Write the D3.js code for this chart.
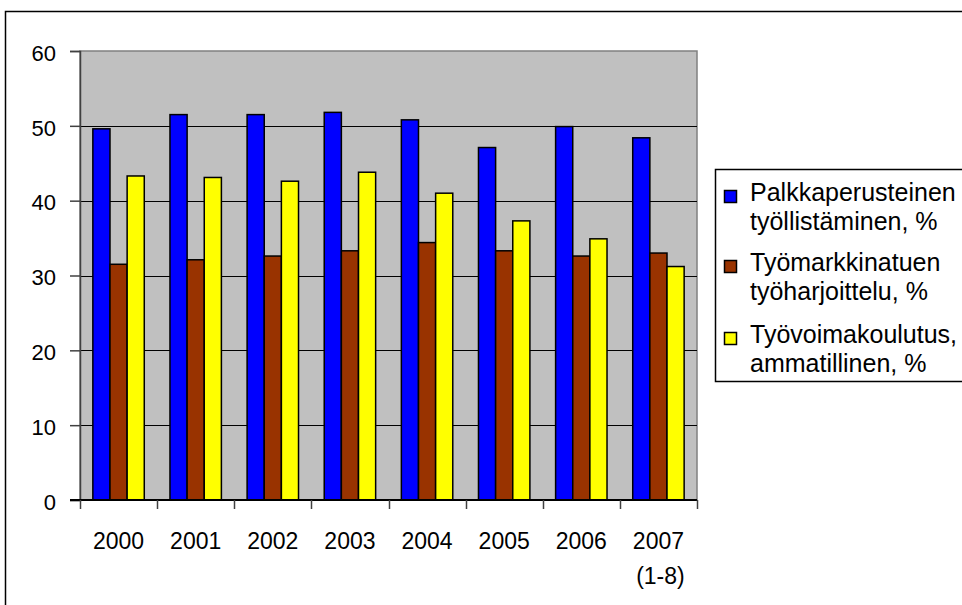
<!DOCTYPE html>
<html>
<head>
<meta charset="utf-8">
<script src="https://cdn.jsdelivr.net/npm/d3@7"></script>
<style>
  html, body { margin: 0; padding: 0; background: #fff; }
  svg { display: block; font-family: "Liberation Sans", Arial, sans-serif; }
</style>
</head>
<body>
<svg id="chart" width="962" height="605"></svg>
<script>
// Years and the extra line shown under the last one
const years = ["2000", "2001", "2002", "2003", "2004", "2005", "2006", "2007"];
const yearNotes = ["", "", "", "", "", "", "", "(1-8)"];

// Series names (two legend lines each) and values, %
const seriesKeys = ["palkka", "tmt", "koulutus"];
const seriesNames = [
  ["Palkkaperusteinen", "työllistäminen, %"],
  ["Työmarkkinatuen", "työharjoittelu, %"],
  ["Työvoimakoulutus,", "ammatillinen, %"]
];
const palkkaperusteinen = [49.6, 51.5, 51.5, 51.8, 50.8, 47.1, 49.9, 48.4];
const tyomarkkinatuen   = [31.5, 32.1, 32.6, 33.3, 34.4, 33.3, 32.6, 33.0];
const tyovoimakoulutus  = [43.3, 43.1, 42.6, 43.8, 41.0, 37.3, 34.9, 31.2];
const seriesValues = [palkkaperusteinen, tyomarkkinatuen, tyovoimakoulutus];
const seriesColors = ["#0000ff", "#993300", "#ffff00"];

const yTicks = [0, 10, 20, 30, 40, 50, 60];

const svg = d3.select("#chart");
const plot = { left: 80, right: 697, top: 51, bottom: 500 };

// Outer chart frame
svg.append("rect")
  .attr("x", 5.5).attr("y", 11.5)
  .attr("width", 990).attr("height", 640)
  .attr("fill", "#fff").attr("stroke", "#000").attr("stroke-width", 1.5);

const x = d3.scaleBand().domain(years).range([plot.left, plot.right]).padding(0);
const xs = d3.scaleBand().domain(seriesKeys).range([0, x.bandwidth()])
  .paddingInner(0).paddingOuter(0.75);
const y = d3.scaleLinear().domain([0, 60]).range([plot.bottom, plot.top]);

// Plot background
svg.append("rect")
  .attr("x", plot.left).attr("y", plot.top)
  .attr("width", plot.right - plot.left).attr("height", plot.bottom - plot.top)
  .attr("fill", "#c0c0c0").attr("stroke", "#808080").attr("stroke-width", 1.5);

// Horizontal gridlines
svg.append("g").selectAll("line")
  .data(yTicks.filter(d => d > 0 && d < 60))
  .join("line")
  .attr("x1", plot.left).attr("x2", plot.right)
  .attr("y1", d => Math.round(y(d)) + 0.5).attr("y2", d => Math.round(y(d)) + 0.5)
  .attr("stroke", "#000").attr("stroke-width", 1);

// Bars
const groups = svg.append("g").selectAll("g")
  .data(years)
  .join("g")
  .attr("transform", d => `translate(${x(d)},0)`);

groups.selectAll("rect")
  .data((d, i) => seriesKeys.map((k, s) => ({ key: k, value: seriesValues[s][i], color: seriesColors[s] })))
  .join("rect")
  .attr("x", d => xs(d.key))
  .attr("width", xs.bandwidth())
  .attr("y", d => y(d.value))
  .attr("height", d => y(0) - y(d.value))
  .attr("fill", d => d.color)
  .attr("stroke", "#000")
  .attr("stroke-width", 1.5);

// Y axis
const yAxis = svg.append("g")
  .attr("transform", `translate(${plot.left},0)`)
  .call(d3.axisLeft(y).tickValues(yTicks).tickSize(10).tickPadding(14).tickFormat(d3.format("d")));
yAxis.select(".domain").attr("stroke", "#404040").attr("stroke-width", 1.5);
yAxis.selectAll(".tick line").attr("stroke", "#404040").attr("stroke-width", 1.5);
yAxis.selectAll(".tick text")
  .attr("font-family", "'Liberation Sans', Arial, sans-serif")
  .attr("font-size", 22).attr("fill", "#000").attr("dy", "0.42em");

// X axis line and category boundary ticks
const xAxis = svg.append("g");
xAxis.append("line")
  .attr("x1", plot.left - 10).attr("x2", plot.right)
  .attr("y1", plot.bottom).attr("y2", plot.bottom)
  .attr("stroke", "#000").attr("stroke-width", 2);
const bounds = years.map(d => x(d)).concat([x(years[years.length - 1]) + x.bandwidth()]);
xAxis.selectAll("line.tick")
  .data(bounds)
  .join("line")
  .attr("class", "tick")
  .attr("x1", d => Math.round(d) + 0.5).attr("x2", d => Math.round(d) + 0.5)
  .attr("y1", plot.bottom).attr("y2", plot.bottom + 9)
  .attr("stroke", "#404040").attr("stroke-width", 1.5);

const labels = xAxis.selectAll("text")
  .data(years)
  .join("text")
  .attr("text-anchor", "middle")
  .attr("font-size", 23)
  .attr("fill", "#000");
labels.append("tspan")
  .attr("x", d => x(d) + x.bandwidth() / 2)
  .attr("y", 549)
  .text(d => d);
labels.filter(d => yearNotes[years.indexOf(d)] !== "").append("tspan")
  .attr("x", d => x(d) + x.bandwidth() / 2 + 2)
  .attr("y", 584)
  .text(d => yearNotes[years.indexOf(d)]);

// Legend
const legend = svg.append("g");
legend.append("rect")
  .attr("x", 715.5).attr("y", 169.5)
  .attr("width", 300).attr("height", 212)
  .attr("fill", "#fff").attr("stroke", "#000").attr("stroke-width", 1.5);

const entryTop = [201, 271, 343];
const item = legend.selectAll("g.item")
  .data(seriesNames)
  .join("g")
  .attr("class", "item");
item.append("rect")
  .attr("x", 724.5).attr("y", (d, i) => entryTop[i] - 10.5)
  .attr("width", 12).attr("height", 12)
  .attr("fill", (d, i) => seriesColors[i])
  .attr("stroke", "#000").attr("stroke-width", 1.5);
item.append("text")
  .attr("font-size", 25)
  .attr("fill", "#000")
  .selectAll("tspan")
  .data((d, i) => d.map((line, j) => ({ line, j, i })))
  .join("tspan")
  .attr("x", 750)
  .attr("y", d => entryTop[d.i] + d.j * 28.5)
  .text(d => d.line);
</script>
</body>
</html>
